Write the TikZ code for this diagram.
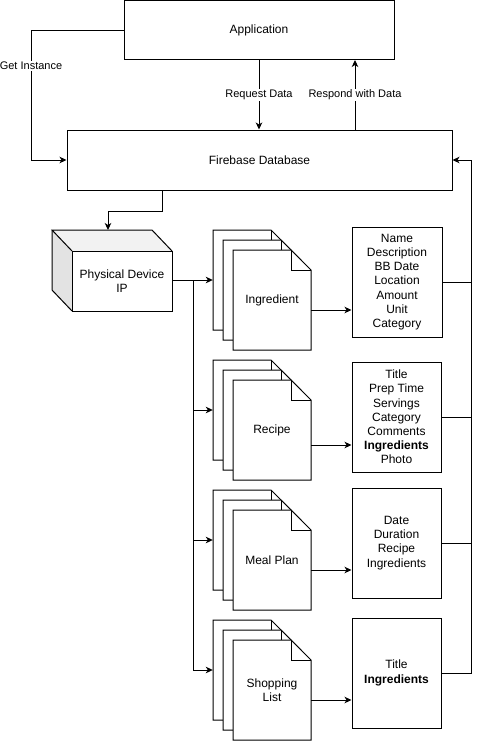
\documentclass[tikz,border=0pt]{standalone}
\usepackage{fontspec}
\setmainfont{Liberation Sans}
\usetikzlibrary{arrows.meta,calc}
\definecolor{cubeside}{HTML}{E3E3E3}
\definecolor{cubetop}{HTML}{F2F2F2}
\tikzset{
  box/.style={draw, line width=1pt, fill=white, inner sep=0pt, align=center, font=\fontsize{12}{14.2}\selectfont},
  lbl/.style={fill=white, inner sep=1pt, font=\fontsize{11}{13}\selectfont},
  arr/.style={line width=1pt, -{Stealth[length=7pt,width=6.5pt,inset=2pt]}},
  ln/.style={line width=1pt},
}
\newcommand\docstack[4]{%
  \foreach \dd in {0,10,20}{
    \draw[ln, fill=white, line join=miter] ({#2+\dd},{#3+\dd}) -- ({#2+\dd+58},{#3+\dd}) -- ({#2+\dd+78},{#3+\dd+20}) -- ({#2+\dd+78},{#3+\dd+100}) -- ({#2+\dd},{#3+\dd+100}) -- cycle;
    \draw[ln] ({#2+\dd+58},{#3+\dd}) -- ({#2+\dd+58},{#3+\dd+20}) -- ({#2+\dd+78},{#3+\dd+20});
  }
  \node[minimum width=78pt, minimum height=100pt, inner sep=0pt, align=center, font=\fontsize{12}{14.2}\selectfont] (#1F) at ({#2+59},{#3+70}) {#4};
  \node[minimum width=78pt, minimum height=100pt, inner sep=0pt] (#1B) at ({#2+39},{#3+50}) {};
}
\begin{document}
\begin{tikzpicture}[x=1pt,y=-1pt]
\useasboundingbox (0,0) rectangle (480,742);

% main boxes
\node[box, minimum width=270pt, minimum height=59pt] (app) at (259,30) {Application};
\node[box, minimum width=385pt, minimum height=60pt] (fb) at (259.5,160) {Firebase Database};

% cube
\fill[cubeside] (52,230) -- (72,251) -- (72,311) -- (52,290) -- cycle;
\fill[cubetop] (52,230) -- (152,230) -- (172,251) -- (72,251) -- cycle;
\draw[ln, line join=miter] (72,251) -- (52,230) -- (152,230) -- (172,251);
\draw[ln, line join=miter] (52,230) -- (52,290) -- (72,311);
\node[box, minimum width=100pt, minimum height=60pt] (pd) at (122,281) {Physical Device\\IP};
\coordinate (pdtop) at (108,230);

% document stacks
\docstack{ing}{213}{230}{Ingredient}
\docstack{rec}{213}{360}{Recipe}
\docstack{mea}{213}{490}{Meal Plan}
\docstack{shp}{213}{620}{Shopping\\List}

% property boxes
\node[box, minimum width=90pt, minimum height=110pt] (ingP) at (397,282) {Name\\Description\\BB Date\\Location\\Amount\\Unit\\Category};
\node[box, minimum width=89pt, minimum height=110pt] (recP) at (396.5,417) {Title\\Prep Time\\Servings\\Category\\Comments\\\textbf{Ingredients}\\Photo};
\node[box, minimum width=89pt, minimum height=110pt] (meaP) at (396.5,543) {Date\\Duration\\Recipe\\Ingredients};
\node[box, minimum width=89pt, minimum height=110pt] (shpP) at (396.5,673) {Title\\\textbf{Ingredients}};

% top connectors
\coordinate (gi) at (31,30);
\draw[arr] (app.west) -- (gi) |- (fb.west);
\node[lbl] (giL) at (31,66) {Get Instance};
\draw[arr] (app.south) -- (app.south |- fb.north) node[lbl, midway] (rqL) {Request Data};
\draw[arr] (fb.north -| 355,0) -- (app.south -| 355,0) node[lbl, midway] (rsL) {Respond with Data};

% firebase to device
\coordinate (fbo) at (162,190);
\draw[arr] (fbo) -- (162,211) -| (pdtop);

% device to documents
\draw[arr] (pd.east |- 0,280) -- (ingB.west);
\coordinate (br) at (193,280);
\draw[arr] (br) |- (recB.west);
\draw[arr] (br) |- (meaB.west);
\draw[arr] (br) |- (shpB.west);

% documents to properties
\draw[arr] (ingF.east |- 0,310) -- (ingP.west |- 0,310);
\draw[arr] (recF.east |- 0,445) -- (recP.west |- 0,445);
\draw[arr] (meaF.east |- 0,570) -- (meaP.west |- 0,570);
\draw[arr] (shpF.east |- 0,700) -- (shpP.west |- 0,700);

% properties back to firebase
\coordinate (rt) at (471,160);
\draw[ln] (ingP.east) -- (ingP.east -| rt);
\draw[ln] (recP.east) -- (recP.east -| rt);
\draw[ln] (meaP.east) -- (meaP.east -| rt);
\draw[arr] (shpP.east) -| (rt) -- (fb.east);
\end{tikzpicture}
\end{document}
